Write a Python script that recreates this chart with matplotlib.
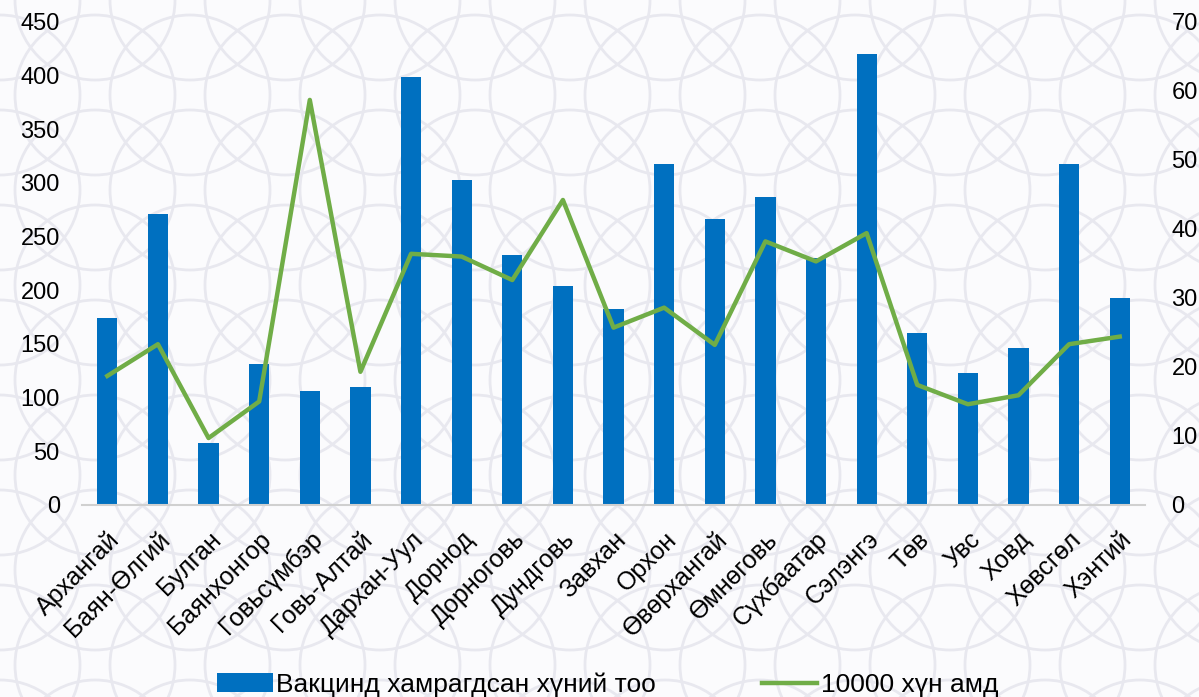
import numpy as np
import matplotlib.pyplot as plt
from matplotlib.patches import Circle

plt.rcParams['font.family'] = ['Liberation Sans', 'DejaVu Sans']

# Аймгууд
aimag = ['Архангай', 'Баян-Өлгий', 'Булган', 'Баянхонгор', 'Говьсүмбэр',
         'Говь-Алтай', 'Дархан-Уул', 'Дорнод', 'Дорноговь', 'Дундговь',
         'Завхан', 'Орхон', 'Өвөрхангай', 'Өмнөговь', 'Сүхбаатар',
         'Сэлэнгэ', 'Төв', 'Увс', 'Ховд', 'Хөвсгөл', 'Хэнтий']

# Вакцинд хамрагдсан хүний тоо
vaccinated = [174, 271, 58, 131, 106, 110, 399, 303, 233, 204,
              183, 318, 266, 287, 230, 420, 160, 123, 146, 318, 193]

# 10000 хүн амд
per_10000 = [18.7, 23.3, 9.7, 15.0, 58.7, 19.3, 36.4, 36.0, 32.6, 44.2,
             25.7, 28.6, 23.2, 38.2, 35.3, 39.4, 17.4, 14.6, 15.9, 23.3, 24.4]

fig = plt.figure(figsize=(11.99, 6.97), dpi=100)
fig.patch.set_facecolor('#fbfbfd')

# background pattern (decoration)
bg = fig.add_axes([0, 0, 1, 1], zorder=-10)
bg.set_xlim(0, 1199)
bg.set_ylim(697, 0)
bg.axis('off')
step = 190
for cx in np.arange(-step, 1199 + step, step):
    for cy in np.arange(-step, 697 + step, step):
        for dx, dy in [(0, 0), (step / 2, step / 2)]:
            bg.add_patch(Circle((cx + dx, cy + dy), 80, fill=False,
                                ec='#e8e8ef', lw=2))
            bg.add_patch(Circle((cx + dx + step / 2, cy + dy), 80, fill=False,
                                ec='#e8e8ef', lw=2))

ax = fig.add_axes([0.0684, 0.2755, 0.8866, 0.693])
ax.patch.set_alpha(0)
x = np.arange(len(aimag))

bars = ax.bar(x, vaccinated, width=0.4, color='#0070C0', zorder=2,
              label='Вакцинд хамрагдсан хүний тоо')
ax.set_xlim(-0.5, len(aimag) - 0.5)
ax.set_ylim(0, 450)
ax.set_yticks(np.arange(0, 451, 50))
ax.tick_params(axis='y', length=0, labelsize=17, pad=16)
ax.tick_params(axis='x', length=0, pad=16)
ax.set_xticks(x)
ax.set_xticklabels(aimag, rotation=45, ha='right', rotation_mode='anchor',
                   fontsize=18)
for s in ['top', 'right', 'left']:
    ax.spines[s].set_visible(False)
ax.spines['bottom'].set_color('#d0d0d0')
ax.spines['bottom'].set_linewidth(1.5)

ax2 = ax.twinx()
line, = ax2.plot(x, per_10000, color='#70AD47', lw=3.2, zorder=3,
                 label='10000 хүн амд')
ax2.set_ylim(0, 70)
ax2.set_yticks(np.arange(0, 71, 10))
ax2.tick_params(axis='y', length=0, labelsize=17, pad=19)
for s in ['top', 'right', 'left', 'bottom']:
    ax2.spines[s].set_visible(False)

fig.legend([bars, line], ['Вакцинд хамрагдсан хүний тоо', '10000 хүн амд'],
           loc='lower center', bbox_to_anchor=(0.507, -0.034), ncol=2,
           frameon=False, fontsize=19, handlelength=2.1, handletextpad=0.15,
           columnspacing=4.0)

fig.savefig('out.png', dpi=100, facecolor=fig.get_facecolor())
